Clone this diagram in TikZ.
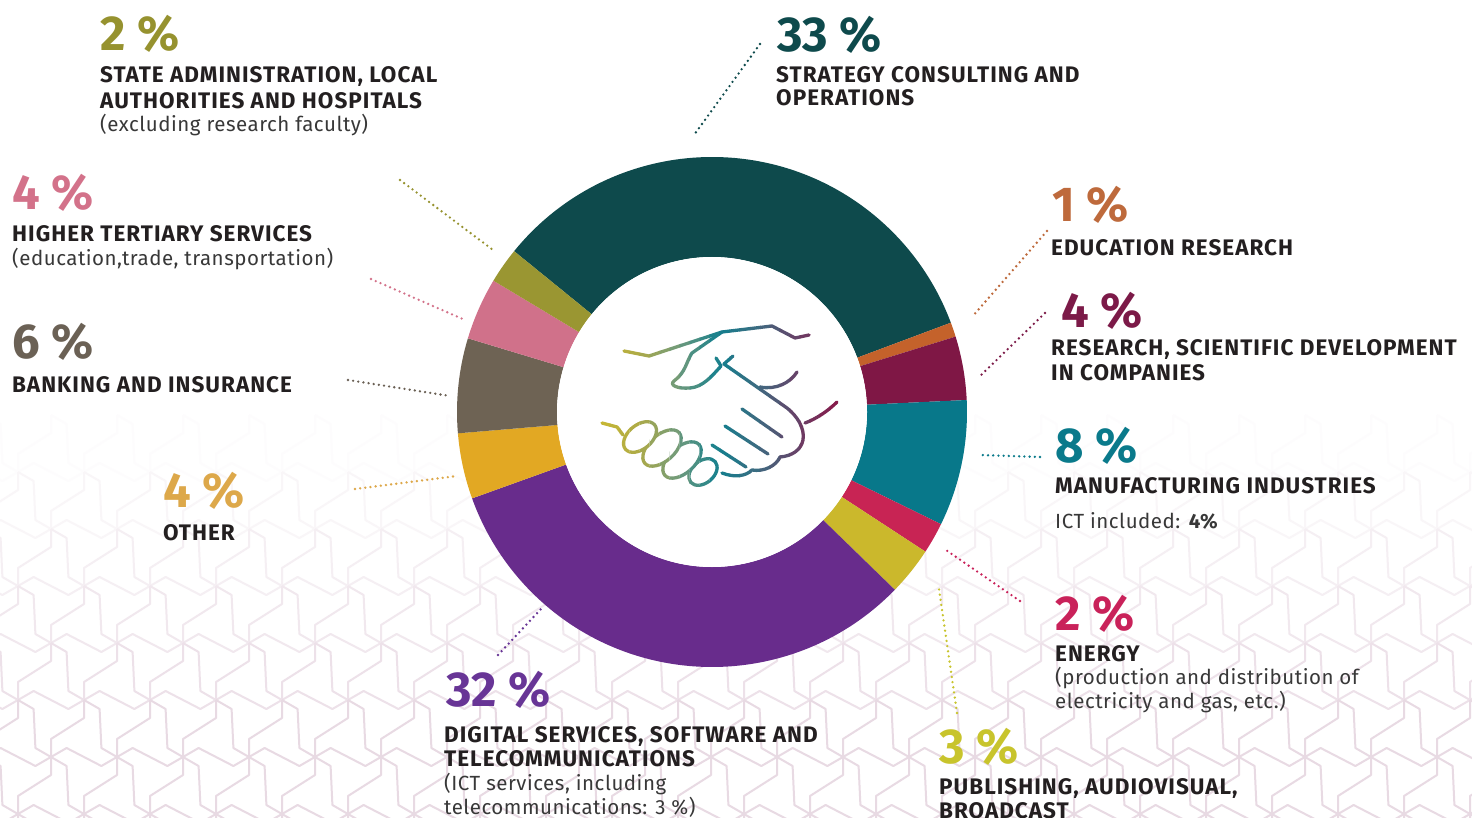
\documentclass[tikz,border=0pt]{standalone}
\usepackage{fontspec}
\setmainfont{Fira Sans}
\newfontfamily\headfont{Fira Sans}[LetterSpace=4.5]
\newfontfamily\subfont{Fira Sans}[LetterSpace=2.5]
\definecolor{cStrat}{HTML}{0E4A4C}
\definecolor{cEdu}{HTML}{C4622B}
\definecolor{cRes}{HTML}{7F1745}
\definecolor{cMan}{HTML}{08788A}
\definecolor{cEne}{HTML}{C82454}
\definecolor{cPub}{HTML}{CBB82C}
\definecolor{cDig}{HTML}{682C8C}
\definecolor{cOth}{HTML}{E2A823}
\definecolor{cBank}{HTML}{6E6354}
\definecolor{cHigh}{HTML}{D0718A}
\definecolor{cState}{HTML}{9A9632}
\definecolor{tStrat}{HTML}{0E4A4C}
\definecolor{tEdu}{HTML}{BE6A3C}
\definecolor{tRes}{HTML}{7C1A48}
\definecolor{tMan}{HTML}{0A7A8B}
\definecolor{tEne}{HTML}{C9225A}
\definecolor{tPub}{HTML}{C8C42C}
\definecolor{tDig}{HTML}{683596}
\definecolor{tOth}{HTML}{DDA84A}
\definecolor{tBank}{HTML}{6B6155}
\definecolor{tHigh}{HTML}{D3728A}
\definecolor{tState}{HTML}{96922F}
\definecolor{headc}{HTML}{231F20}
\definecolor{subc}{HTML}{383838}
\definecolor{patc}{HTML}{E8DAE3}
\definecolor{hs0}{HTML}{C9B832}
\definecolor{hs1}{HTML}{ADAA48}
\definecolor{hs2}{HTML}{6E9A7C}
\definecolor{hs3}{HTML}{137F8E}
\definecolor{hs4}{HTML}{3F6A80}
\definecolor{hs5}{HTML}{6A3F66}
\definecolor{hs6}{HTML}{8A1848}
\newcommand{\hshake}[1]{%
  % left hand fingers (back to front)
  \draw[#1, fill=white, rotate around={40:(703,472)}] (703,472) ellipse [x radius=16, y radius=11];
  \draw[#1, fill=white, rotate around={42:(682,460)}] (682,460) ellipse [x radius=23, y radius=13];
  \draw[#1, fill=white, rotate around={42:(662,448)}] (662,448) ellipse [x radius=23, y radius=13];
  \draw[#1, fill=white, rotate around={40:(640,437)}] (640,437) ellipse [x radius=19, y radius=12];
  \draw[#1] (602,423) -- (617,427) -- (623,435);
  % upper arm and thumb
  \draw[#1] (624,351) -- (649,356) -- (722,332) -- (772,326) -- (795,338) -- (809,335);
  \draw[#1] (722,332) -- (692,353) .. controls (686,362) and (686,372) .. (674,381)
     .. controls (669,385) and (677,389) .. (690,388) .. controls (703,387) and (712,376) .. (721,366);
  \draw[#1] (716,358) -- (721,366);
  \draw[#1] (733,356) -- (724,364) -- (787,408) .. controls (797,416) and (805,428) .. (803,440)
     .. controls (801,450) and (792,456) .. (780,457);
  \draw[#1] (760,387) .. controls (776,390) and (790,383) .. (797,372);
  \draw[#1] (805,423) .. controls (816,419) and (828,411) .. (837,402);
  % right hand fingers
  \draw[#1] (742,409) -- (782,437);
  \draw[#1] (725,426) -- (768,454);
  \draw[#1] (712,445) -- (746,467);
  \draw[#1] (780,457) .. controls (776,466) and (764,472) .. (752,470)
     .. controls (746,476) and (735,478) .. (722,473);
}
\begin{document}
\begin{tikzpicture}[x=1pt,y=-1pt,
  pct/.style={font=\fontsize{49}{49}\selectfont\bfseries, anchor=base west, inner sep=0pt},
  head/.style={font=\headfont\fontsize{22.5}{26}\selectfont\bfseries, text=headc, anchor=base west, inner sep=0pt},
  subt/.style={font=\subfont\fontsize{20.5}{24}\selectfont, text=subc, anchor=base west, inner sep=0pt},
  lead/.style={line width=2.6pt, dash pattern=on 0pt off 5.2pt, line cap=round},
  bgline/.style={line width=2pt, line join=round},
  hsline/.style={line width=3.3pt, line cap=round, line join=round}]
\useasboundingbox (0,0) rectangle (1472,818);
\fill[white] (0,0) rectangle (1472,818);
% background pattern
\begin{scope}
\clip (0,0) rectangle (1472,818);
\foreach \i in {0,...,8}{
  \pgfmathsetmacro\yy{415+57*\i}
  \pgfmathsetmacro\xo{ifthenelse(mod(\i,2)==0,51,18)}
  \pgfmathtruncatemacro\op{max(0,min(100,(\yy-450)/3.1))}
  \foreach \k in {-1,...,23}{
    \pgfmathsetmacro\xx{\xo+66*\k}
    \draw[bgline, draw=patc!\op!white] (\xx,\yy) -- ++(15.6,-9) -- ++(34.8,18) -- ++(15.6,-9);
    \draw[bgline, draw=patc!\op!white] (\xx,\yy) -- ++(0,-18) -- ++(33,-21) -- ++(0,-18);
    \draw[bgline, draw=patc!\op!white] (\xx,\yy) -- ++(-15.6,-9) -- ++(-1.8,-39) -- ++(-15.6,-9);
  }
}
\end{scope}
% donut
\begin{scope}[shift={(712,412)}, yscale=-1]
  \foreach \a/\b/\c in {140.9/20.5/cStrat, 20.5/17.2/cEdu, 17.2/2.7/cRes, 2.7/-26.1/cMan,
      -26.1/-33.2/cEne, -33.2/-44.2/cPub, -44.2/-160.2/cDig, -160.2/-175.2/cOth,
      -175.2/-196.8/cBank, -196.8/-211/cHigh, -211/-219.1/cState}{
    \fill[\c] (\a:255) arc[start angle=\a, end angle=\b, radius=255] -- (\b:155)
       arc[start angle=\b, end angle=\a, radius=155] -- cycle;
  }
  \fill[white] (0,0) circle[radius=155];
\end{scope}
% handshake icon with horizontal colour gradient
\foreach \ca/\cb/\xa in {hs0/hs1/600, hs1/hs2/640, hs2/hs3/680, hs3/hs4/720, hs4/hs5/760, hs5/hs6/800}{
  \foreach \k in {0,...,3}{
    \pgfmathtruncatemacro\pp{100-(\k+0.5)*25}
    \pgfmathsetmacro\xl{\xa+10*\k-0.4}
    \pgfmathsetmacro\xr{\xa+10*\k+10.4}
    \begin{scope}
      \clip (\xl,310) rectangle (\xr,500);
      \hshake{hsline, draw=\ca!\pp!\cb}
    \end{scope}
  }
}
% leader lines
\coordinate (l33a) at (760,44);   \coordinate (l33b) at (694,135);
\coordinate (l2sa) at (400,180);  \coordinate (l2sb) at (493,250);
\coordinate (l4ha) at (371,279);  \coordinate (l4hb) at (465,320);
\coordinate (l6a) at (348,380);   \coordinate (l6b) at (450,396);
\coordinate (l4oa) at (355,489);  \coordinate (l4ob) at (457,476);
\coordinate (l32a) at (498,655);  \coordinate (l32b) at (541,609);
\coordinate (l1a) at (1047,231);  \coordinate (l1b) at (972,317);
\coordinate (l4ra) at (1045,313); \coordinate (l4rb) at (978,378);
\coordinate (l8a) at (1040,457);  \coordinate (l8b) at (980,455);
\coordinate (l2ea) at (1020,601); \coordinate (l2eb) at (943,548);
\coordinate (l3a) at (957,713);   \coordinate (l3b) at (939,589);
\draw[lead, tStrat] (l33a) -- (l33b);
\draw[lead, tState] (l2sa) -- (l2sb);
\draw[lead, tHigh] (l4ha) -- (l4hb);
\draw[lead, tBank] (l6a) -- (l6b);
\draw[lead, tOth] (l4oa) -- (l4ob);
\draw[lead, tDig] (l32a) -- (l32b);
\draw[lead, tEdu] (l1a) -- (l1b);
\draw[lead, tRes] (l4ra) -- (l4rb);
\draw[lead, tMan] (l8a) -- (l8b);
\draw[lead, tEne] (l2ea) -- (l2eb);
\draw[lead, tPub] (l3a) -- (l3b);
% texts: left side
\node[pct, text=tState] (p2s) at (100,51) {2 \%};
\node[head] (h2sa) at (100,83) {STATE ADMINISTRATION, LOCAL};
\node[head] (h2sb) at (100,109) {AUTHORITIES AND HOSPITALS};
\node[subt] (s2s) at (100,132) {(excluding research faculty)};
\node[pct, text=tHigh] (p4h) at (12,210) {4 \%};
\node[head] (h4h) at (12,242) {HIGHER TERTIARY SERVICES};
\node[subt] (s4h) at (12,266) {(education,trade, transportation)};
\node[pct, text=tBank] (p6) at (12,358) {6 \%};
\node[head] (h6) at (12,392) {BANKING AND INSURANCE};
\node[pct, text=tOth] (p4o) at (163,507) {4 \%};
\node[head] (h4o) at (163,540) {OTHER};
% top
\node[pct, text=tStrat] (p33) at (777,52) {33 \%};
\node[head] (h33a) at (776,83) {STRATEGY CONSULTING AND};
\node[head] (h33b) at (776,106) {OPERATIONS};
% right side
\node[pct, text=tEdu] (p1) at (1052,222) {1 \%};
\node[head] (h1) at (1051,256) {EDUCATION RESEARCH};
\node[pct, text=tRes] (p4r) at (1061,327) {4 \%};
\node[head] (h4ra) at (1051,355) {RESEARCH, SCIENTIFIC DEVELOPMENT};
\node[head] (h4rb) at (1051,380) {IN COMPANIES};
\node[pct, text=tMan] (p8) at (1055,462) {8 \%};
\node[head] (h8) at (1055,493) {MANUFACTURING INDUSTRIES};
\node[subt] (s8) at (1055,528) {ICT included: \textbf{4\%}};
\node[pct, text=tEne] (p2e) at (1055,630) {2 \%};
\node[head] (h2e) at (1055,661) {ENERGY};
\node[subt] (s2ea) at (1055,684) {(production and distribution of};
\node[subt] (s2eb) at (1055,708) {electricity and gas, etc.)};
\node[pct, text=tPub] (p3) at (939,763) {3 \%};
\node[head] (h3a) at (939,794) {PUBLISHING, AUDIOVISUAL,};
\node[head] (h3b) at (939,818) {BROADCAST};
% bottom
\node[pct, text=tDig] (p32) at (446,706) {32 \%};
\node[head] (h32a) at (444,742) {DIGITAL SERVICES, SOFTWARE AND};
\node[head] (h32b) at (444,766) {TELECOMMUNICATIONS};
\node[subt] (s32a) at (444,790) {(ICT services, including};
\node[subt] (s32b) at (444,814) {telecommunications: 3 \%)};
\end{tikzpicture}
\end{document}
